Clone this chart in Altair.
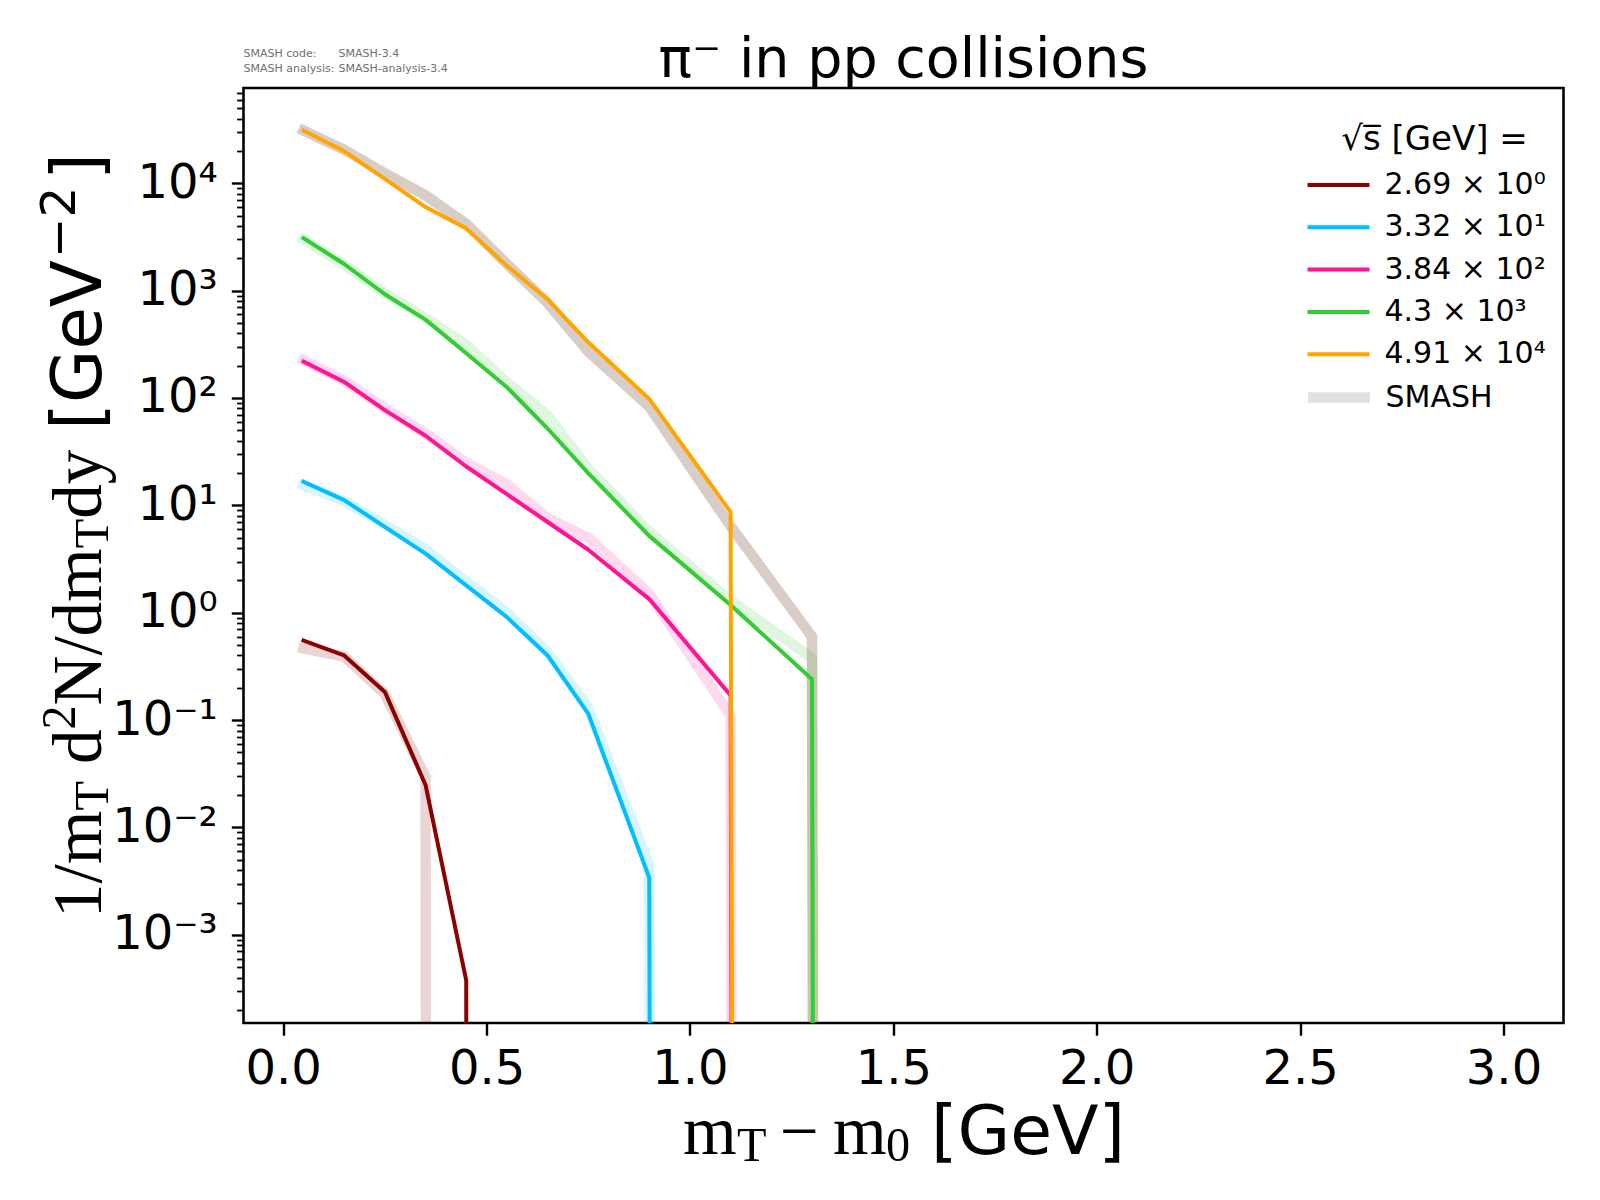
import altair as alt
import pandas as pd

# ---------------- data ----------------
x_bins = [0.05, 0.15, 0.25, 0.35, 0.45, 0.55, 0.65, 0.75, 0.9, 1.1, 1.3, 1.5, 2.0, 2.5, 3.0]

series_labels = ["2.69 × 10⁰", "3.32 × 10¹", "3.84 × 10²", "4.3 × 10³", "4.91 × 10⁴"]
series_colors = ["#8B0000", "#00BFFF", "#FF1493", "#32CD32", "#FFA500"]
band_colors = ["rgba(139,0,0,0.17)", "rgba(0,191,255,0.16)", "rgba(255,20,147,0.16)",
               "rgba(50,205,50,0.16)", "rgba(120,80,55,0.28)"]

line_269 = [0.55, 0.40, 0.183, 0.0249, 3.77e-4, 0, 0, 0, 0, 0, 0, 0, 0, 0, 0]
line_332 = [16.6, 11.2, 6.3, 3.55, 1.8, 0.91, 0.40, 0.115, 3.4e-3, 0, 0, 0, 0, 0, 0]
line_384 = [218, 141, 77, 44.5, 23, 12.7, 7.0, 3.86, 1.34, 0.17, 0, 0, 0, 0, 0]
line_43 = [3080, 1770, 925, 537, 261, 126, 52, 20, 5.2, 1.18, 0.24, 0, 0, 0, 0]
line_491 = [31000, 19900, 11000, 6000, 3800, 1700, 830, 330, 98, 8.65, 0, 0, 0, 0, 0]

smash_269 = [0.465, 0.39, 0.175, 0.0295, 0, 0, 0, 0, 0, 0, 0, 0, 0, 0, 0]
smash_332 = [15.4, 11.0, 6.6, 3.9, 1.96, 1.0, 0.43, 0.13, 4.4e-3, 0, 0, 0, 0, 0, 0]
smash_384 = [225, 145, 80, 47, 25, 15.7, 7.6, 5.0, 1.51, 0.11, 0, 0, 0, 0, 0]
smash_43 = [3000, 1750, 950, 560, 313, 140, 69, 22, 5.7, 1.29, 0.38, 0, 0, 0, 0]
smash_491 = [31000, 20500, 12400, 7700, 4200, 1770, 770, 270, 83, 6.4, 0.6, 0, 0, 0, 0]

lines = [line_269, line_332, line_384, line_43, line_491]
smash = [smash_269, smash_332, smash_384, smash_43, smash_491]

smash_label = "SMASH"
smash_legend_color = "#e0e0e0"

x_ticks = [0.0, 0.5, 1.0, 1.5, 2.0, 2.5, 3.0]
y_major = [10.0 ** k for k in range(-3, 5)]
y_major_text = ["10⁻³", "10⁻²", "10⁻¹", "10⁰", "10¹", "10²", "10³", "10⁴"]
y_lo, y_hi = 1.51e-4, 7.71e4
y_minor = [m * 10.0 ** k for k in range(-4, 5) for m in range(2, 10)
           if y_lo <= m * 10.0 ** k <= y_hi]
y_ticks = sorted(y_major + y_minor)


def clipped(vals):
    # like matplotlib's log-scale 'clip': non-positive values go to a tiny number
    return [v if v > 0 else 1e-300 for v in vals]


# ---------------- encodings ----------------
is_major = "abs(log(datum.value)/LN10 - round(log(datum.value)/LN10)) < 0.001"
label_arr = "[" + ",".join("'" + t + "'" for t in y_major_text) + "]"

x_enc = alt.X("x:Q",
              scale=alt.Scale(domain=[-0.0975, 3.1475], nice=False, zero=False),
              axis=alt.Axis(values=x_ticks, format=".1f", title=None, labelFontSize=48,
                            labelFont="DejaVu Sans", labelPadding=10, tickSize=12.2,
                            tickWidth=2.4, labelFlush=False, labelOverlap=False,
                            domain=False, grid=False))
y_enc = alt.Y("y:Q",
              scale=alt.Scale(type="log", domain=[y_lo, y_hi], nice=False),
              axis=alt.Axis(values=y_ticks, title=None, labelFontSize=48,
                            labelFont="DejaVu Sans", labelPadding=14,
                            labelExpr=is_major + " ? " + label_arr +
                            "[round(log(datum.value)/LN10)+3] : ''",
                            tickSize={"condition": {"test": is_major, "value": 12.2}, "value": 6.9},
                            tickWidth={"condition": {"test": is_major, "value": 2.4}, "value": 1.8},
                            labelFlush=False, labelOverlap=False, domain=False, grid=False))

common_legend = dict(orient="none", legendX=1080,
                     labelFont="DejaVu Sans", labelFontSize=30, labelColor="black",
                     labelOffset=31, labelLimit=0, symbolType="M-3.1,0H3.1", symbolSize=400,
                     rowPadding=12.3, padding=0)
color_enc = alt.Color(
    "label:N", scale=alt.Scale(domain=series_labels, range=series_colors),
    legend=alt.Legend(title="√s\u0305  [GeV] =", legendY=35,
                      titleFont="DejaVu Sans", titleFontSize=34, titleFontWeight="normal",
                      titleColor="black", titleAnchor="middle", titlePadding=13,
                      titleLimit=0, symbolStrokeWidth=4, **common_legend))
width_enc = alt.StrokeWidth(
    "src:O", scale=alt.Scale(type="point", domain=[smash_label], range=[10.5, 10.5]),
    legend=alt.Legend(title=None, legendY=294, symbolStrokeColor=smash_legend_color,
                      **common_legend))

layers = []
# SMASH bands (thick translucent lines)
for vals, col in zip(smash, band_colors):
    df = pd.DataFrame({"x": x_bins, "y": clipped(vals), "src": smash_label})
    layers.append(alt.Chart(df).mark_line(clip=True, strokeCap="square", strokeJoin="round")
                  .encode(x=x_enc, y=y_enc, color=alt.value(col), strokeWidth=width_enc))
# main lines
for vals, lab in zip(lines, series_labels):
    df = pd.DataFrame({"x": x_bins, "y": clipped(vals), "label": lab})
    layers.append(alt.Chart(df).mark_line(clip=True, strokeWidth=4, strokeCap="square",
                                          strokeJoin="round")
                  .encode(x=x_enc, y=y_enc, color=color_enc))


def piece(text, x, y, font, size, angle=0, color="black", align="left"):
    return (alt.Chart(pd.DataFrame({"t": [text]}))
            .mark_text(font=font, fontSize=size, align=align, baseline="alphabetic",
                       angle=angle, color=color)
            .encode(x=alt.value(x), y=alt.value(y), text="t:N"))


SERIF = "Liberation Serif"
SANS = "DejaVu Sans"
# chart title
layers.append(piece("π⁻ in pp collisions", 660, -11, SANS, 55.5, align="center"))
# x-axis title  m_T - m_0 [GeV]
layers += [
    piece("m", 439.5, 1066, SERIF, 69),
    piece("T", 493.5, 1073, SERIF, 48.3),
    piece("−", 536.5, 1066, SERIF, 69),
    piece("m", 589.5, 1066, SERIF, 69),
    piece("0", 642.5, 1073, SERIF, 48.3),
    piece("[GeV]", 687.5, 1066, SANS, 68),
]
# y-axis title  1/m_T d^2N/dm_T dy [GeV^-2]
bx, bsub, bsup = -142.5, -135.5, -168.5
layers += [
    piece("1/m", bx, 830, SERIF, 69, 270),
    piece("T", bsub, 722.6, SERIF, 48.3, 270),
    piece("d", bx, 676.1, SERIF, 69, 270),
    piece("2", bsup, 641.6, SERIF, 48.3, 270),
    piece("N/dm", bx, 617.4, SERIF, 69, 270),
    piece("T", bsub, 460.2, SERIF, 48.3, 270),
    piece("dy", bx, 430.7, SERIF, 69, 270),
    piece("[GeV", bx, 342, SANS, 69, 270),
    piece("−2", bsup, 170, SANS, 48.3, 270),
    piece("]", bx, 92, SANS, 69, 270),
]
# SMASH version info
layers += [
    piece("SMASH code:", 0, -31, SANS, 11, color="#707070"),
    piece("SMASH-3.4", 95, -31, SANS, 11, color="#707070"),
    piece("SMASH analysis:", 0, -16.5, SANS, 11, color="#707070"),
    piece("SMASH-analysis-3.4", 95, -16.5, SANS, 11, color="#707070"),
]

chart = (alt.layer(*layers)
         .properties(width=1320, height=935,
                     padding={"left": 235.5, "top": 80, "right": 20, "bottom": 160},
                     autosize=alt.AutoSizeParams(type="none"),
                     background="white")
         .configure_view(stroke="black", strokeWidth=2.6)
         .configure_axis(labelColor="black", tickColor="black"))

chart.save("out.html", embed_options={"renderer": "svg", "actions": False})
